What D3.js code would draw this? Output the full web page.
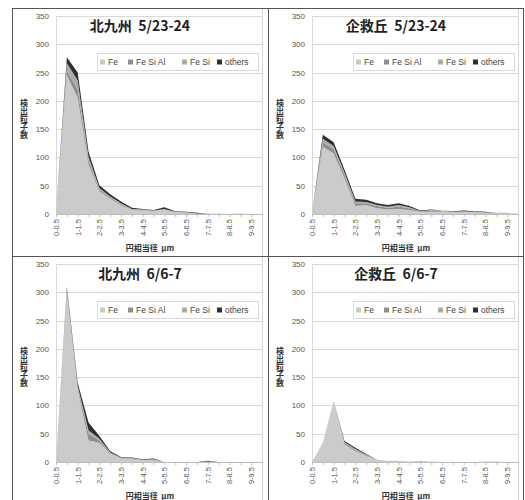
<!DOCTYPE html>
<html>
<head>
<meta charset="utf-8">
<script src="https://cdn.jsdelivr.net/npm/d3@7"></script>
<style>
  body { margin: 0; background: #fff; }
  svg { display: block; font-family: "Noto Sans CJK JP", "Noto Sans", sans-serif; }
</style>
</head>
<body>
<svg id="chart" width="525" height="500"></svg>
<script>
const categories = ['0-0.5', '0.5-1', '1-1.5', '1.5-2', '2-2.5', '2.5-3', '3-3.5', '3.5-4', '4-4.5', '4.5-5',
  '5-5.5', '5.5-6', '6-6.5', '6.5-7', '7-7.5', '7.5-8', '8-8.5', '8.5-9', '9-9.5', '9.5-10']
const tickLabels = ['0-0.5', '1-1.5', '2-2.5', '3-3.5', '4-4.5', '5-5.5', '6-6.5', '7-7.5', '8-8.5', '9-9.5']
const yTicks = [0, 50, 100, 150, 200, 250, 300, 350]
const seriesNames = ['Fe', 'Fe Si Al', 'Fe Si', 'others']
const seriesColors = ['#cbcbcb', '#8e8e8e', '#ababab', '#2e2e2e']

// 北九州 5/23-24
const kitaMayFe     = [3, 245, 206, 88, 40, 27, 15, 7, 6, 5, 7, 3, 3, 1, 1, 1, 0, 1, 0, 0]
const kitaMayFeSiAl = [0, 8, 14, 7, 3, 2, 2, 1, 1, 0, 1, 0, 0, 0, 0, 0, 0, 0, 0, 0]
const kitaMayFeSi   = [0, 14, 16, 6, 3, 2, 2, 1, 1, 1, 1, 1, 0, 0, 0, 0, 0, 0, 0, 0]
const kitaMayOthers = [0, 10, 14, 9, 5, 4, 3, 2, 1, 1, 3, 1, 1, 1, 0, 0, 0, 0, 0, 0]

// 企救丘 5/23-24
const kikuMayFe     = [2, 119, 107, 63, 14, 16, 10, 8, 9, 7, 4, 4, 4, 3, 3, 3, 2, 1, 1, 1]
const kikuMayFeSiAl = [0, 8, 8, 6, 5, 3, 4, 3, 4, 3, 1, 2, 1, 1, 1, 1, 1, 0, 0, 0]
const kikuMayFeSi   = [0, 6, 5, 4, 3, 2, 2, 2, 3, 2, 0, 1, 1, 0, 1, 0, 0, 1, 1, 0]
const kikuMayOthers = [0, 7, 7, 5, 5, 4, 3, 3, 3, 2, 1, 1, 0, 1, 1, 1, 1, 0, 0, 0]

// 北九州 6/6-7
const kitaJunFe     = [0, 300, 128, 38, 34, 15, 6, 5, 3, 3, 0, 0, 0, 0, 1, 0, 0, 0, 0, 0]
const kitaJunFeSiAl = [0, 3, 4, 12, 4, 1, 1, 1, 0, 1, 0, 0, 0, 0, 0, 0, 0, 0, 0, 0]
const kitaJunFeSi   = [0, 3, 3, 6, 3, 1, 1, 1, 1, 1, 0, 0, 0, 0, 0, 0, 0, 0, 0, 0]
const kitaJunOthers = [0, 4, 5, 14, 5, 2, 1, 1, 1, 1, 0, 0, 0, 0, 1, 0, 0, 0, 0, 0]

// 企救丘 6/6-7
const kikuJunFe     = [0, 33, 107, 31, 19, 11, 3, 2, 2, 1, 2, 1, 0, 0, 0, 0, 1, 1, 0, 0]
const kikuJunFeSiAl = [0, 0, 0, 2, 2, 1, 0, 0, 0, 0, 0, 0, 0, 0, 0, 0, 0, 0, 0, 0]
const kikuJunFeSi   = [0, 1, 1, 2, 2, 1, 1, 0, 0, 0, 0, 0, 0, 0, 0, 0, 0, 0, 0, 0]
const kikuJunOthers = [0, 0, 0, 2, 2, 1, 0, 0, 0, 0, 0, 0, 0, 0, 0, 0, 0, 0, 0, 0]

const panels = [
  { title: '北九州  5/23-24', px: 12, py: 8, series: [kitaMayFe, kitaMayFeSiAl, kitaMayFeSi, kitaMayOthers] },
  { title: '企救丘  5/23-24', px: 268, py: 8, series: [kikuMayFe, kikuMayFeSiAl, kikuMayFeSi, kikuMayOthers] },
  { title: '北九州  6/6-7', px: 12, py: 256, series: [kitaJunFe, kitaJunFeSiAl, kitaJunFeSi, kitaJunOthers] },
  { title: '企救丘  6/6-7', px: 268, py: 256, series: [kikuJunFe, kikuJunFeSiAl, kikuJunFeSi, kikuJunOthers] }
]

const svg = d3.select('#chart')

const drawPanel = ({ title, px, py, series }) => {
  const left = px + 44
  const right = px + 250
  const top = py + 8
  const bottom = py + 206

  const x = d3.scalePoint().domain(categories).range([left, right]).padding(0)
  const y = d3.scaleLinear().domain([0, 350]).range([bottom, top])

  const g = svg.append('g')

  // chart area edge on the right
  g.append('line')
    .attr('x1', right + 0.5).attr('x2', right + 0.5)
    .attr('y1', py).attr('y2', py + 248)
    .attr('stroke', '#d4d4d4')

  // gridlines
  g.append('g')
    .selectAll('line')
    .data(yTicks)
    .enter()
    .append('line')
    .attr('x1', left).attr('x2', right)
    .attr('y1', (d) => Math.round(y(d)) + 0.5)
    .attr('y2', (d) => Math.round(y(d)) + 0.5)
    .attr('stroke', '#d9d9d9')

  g.append('rect')
    .attr('x', left + 0.5).attr('y', top + 0.5)
    .attr('width', right - left).attr('height', bottom - top)
    .attr('fill', 'none')
    .attr('stroke', '#d9d9d9')

  // stacked areas
  const rows = categories.map((c, i) => {
    const row = { cat: c }
    seriesNames.forEach((s, k) => { row[s] = series[k][i] })
    return row
  })
  const stacked = d3.stack().keys(seriesNames)(rows)
  const area = d3.area()
    .x((d) => x(d.data.cat))
    .y0((d) => y(d[0]))
    .y1((d) => y(d[1]))

  g.append('g')
    .selectAll('path')
    .data(stacked)
    .enter()
    .append('path')
    .attr('d', area)
    .attr('fill', (d, i) => seriesColors[i])

  // y axis labels
  const yAxis = g.append('g')
    .attr('transform', `translate(${left},0)`)
    .call(d3.axisLeft(y).tickValues(yTicks).tickSize(0).tickPadding(7))
  yAxis.select('.domain').remove()
  yAxis.selectAll('text')
    .attr('font-size', 8)
    .attr('fill', '#555')
    .attr('font-family', '"Liberation Sans", Arial, sans-serif')

  // x axis
  const xAxis = g.append('g')
    .attr('transform', `translate(0,${bottom})`)
    .call(d3.axisBottom(x).tickSize(3).tickFormat((d) => (tickLabels.includes(d) ? d : '')))
  xAxis.select('.domain').attr('stroke', '#bdbdbd')
  xAxis.selectAll('line').attr('stroke', '#bdbdbd')
  xAxis.selectAll('text')
    .attr('font-size', 7.5)
    .attr('fill', '#555')
    .attr('font-family', '"Liberation Sans", Arial, sans-serif')
    .attr('transform', 'rotate(-90)')
    .attr('text-anchor', 'end')
    .attr('x', -5)
    .attr('y', 0)
    .attr('dy', '0.32em')

  // title
  g.append('text')
    .attr('x', px + 128).attr('y', py + 23)
    .attr('text-anchor', 'middle')
    .attr('font-size', 14)
    .attr('font-weight', 'bold')
    .attr('fill', '#222')
    .attr('xml:space', 'preserve')
    .text(title)

  // y axis title, written top to bottom
  g.append('text')
    .attr('x', px + 12).attr('y', py + 111)
    .attr('text-anchor', 'middle')
    .style('writing-mode', 'vertical-rl')
    .style('text-orientation', 'upright')
    .attr('font-size', 8)
    .attr('font-weight', 'bold')
    .attr('fill', '#333')
    .text('検出粒子数')

  // x axis title
  g.append('text')
    .attr('x', px + 138).attr('y', py + 243)
    .attr('text-anchor', 'middle')
    .attr('font-size', 8)
    .attr('font-weight', 'bold')
    .attr('fill', '#333')
    .attr('xml:space', 'preserve')
    .text('円相当径  µm')

  // legend
  const lx = px + 85
  const ly = py + 45
  g.append('rect')
    .attr('x', lx + 0.5).attr('y', ly + 0.5)
    .attr('width', 161).attr('height', 17)
    .attr('fill', '#fff')
    .attr('stroke', '#d9d9d9')
  const offsets = [3, 31, 85, 120]
  const items = g.append('g')
    .selectAll('g')
    .data(seriesNames)
    .enter()
    .append('g')
    .attr('transform', (d, i) => `translate(${lx + offsets[i]},${ly + 9})`)
  items.append('rect')
    .attr('x', 0).attr('y', -2.5)
    .attr('width', 5).attr('height', 5)
    .attr('fill', (d, i) => seriesColors[i])
  items.append('text')
    .attr('x', 8).attr('y', 0)
    .attr('dy', '0.35em')
    .attr('font-size', 8.5)
    .attr('fill', '#444')
    .attr('font-family', '"Liberation Sans", Arial, sans-serif')
    .text((d) => d)
}

panels.forEach(drawPanel)

// panel frame lines
const frame = svg.append('g').attr('stroke', '#555').attr('fill', 'none')
frame.append('rect').attr('x', 12.5).attr('y', 8.5).attr('width', 511).attr('height', 500)
frame.append('line').attr('x1', 268.5).attr('x2', 268.5).attr('y1', 8).attr('y2', 500)
frame.append('line').attr('x1', 12).attr('x2', 524).attr('y1', 256.5).attr('y2', 256.5)
</script>
</body>
</html>
